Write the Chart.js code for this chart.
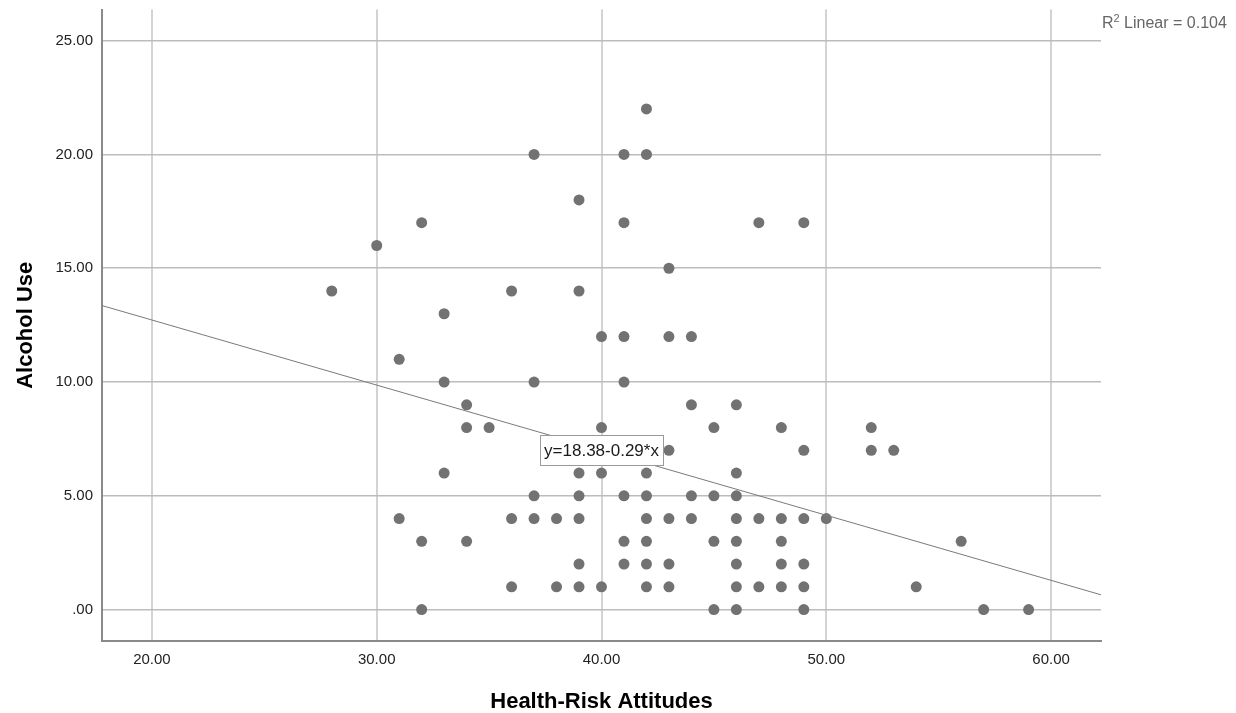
<!DOCTYPE html>
<html>
<head>
<meta charset="utf-8">
<script src="https://cdn.jsdelivr.net/npm/chart.js@4.4.1/dist/chart.umd.min.js"></script>
<style>
  html, body { margin: 0; padding: 0; background: #ffffff; }
  #wrap { width: 1236px; height: 713px; position: relative; }
</style>
</head>
<body>
<div id="wrap"><canvas id="c" width="1236" height="713"></canvas></div>
<script>
// ---- data ----
const healthRisk = [
  42,
  37, 41, 42,
  39,
  32, 41, 47, 49,
  30,
  43,
  28, 36, 39,
  33,
  40, 41, 43, 44,
  31,
  33, 37, 41,
  34, 44, 46,
  34, 35, 40, 45, 48, 52,
  43, 49, 52, 53,
  33, 39, 40, 42, 46,
  37, 39, 41, 42, 44, 45, 46,
  31, 36, 37, 38, 39, 42, 43, 44, 46, 47, 48, 49, 50,
  32, 34, 41, 42, 45, 46, 48, 56,
  39, 41, 42, 43, 46, 48, 49,
  36, 38, 39, 40, 42, 43, 46, 47, 48, 49, 54,
  32, 45, 46, 49, 57, 59
];
const alcoholUse = [
  22,
  20, 20, 20,
  18,
  17, 17, 17, 17,
  16,
  15,
  14, 14, 14,
  13,
  12, 12, 12, 12,
  11,
  10, 10, 10,
  9, 9, 9,
  8, 8, 8, 8, 8, 8,
  7, 7, 7, 7,
  6, 6, 6, 6, 6,
  5, 5, 5, 5, 5, 5, 5,
  4, 4, 4, 4, 4, 4, 4, 4, 4, 4, 4, 4, 4,
  3, 3, 3, 3, 3, 3, 3, 3,
  2, 2, 2, 2, 2, 2, 2,
  1, 1, 1, 1, 1, 1, 1, 1, 1, 1, 1,
  0, 0, 0, 0, 0, 0
];
// fit line end points (as drawn across the plot)
const fitLineX = [17.78, 62.22];
const fitLineY = [13.36, 0.65];
const fitLabel = 'y=18.38-0.29*x';
const fitLabelAtX = 40;
const r2Value = '0.104';
const xTicks = [20, 30, 40, 50, 60];
const yTicks = [0, 5, 10, 15, 20, 25];
const xTitle = 'Health-Risk Attitudes';
const yTitle = 'Alcohol Use';
const xRange = [17.78, 62.22];
const yRange = [-1.38, 26.37];

const points = healthRisk.map((x, i) => ({ x: x, y: alcoholUse[i] }));
const linePts = fitLineX.map((x, i) => ({ x: x, y: fitLineY[i] }));

function fmt(v) {
  const s = Number(v).toFixed(2);
  return s.startsWith('0.') ? s.slice(1) : s;
}

const FONT = "'Liberation Sans', Arial, sans-serif";

const annot = {
  id: 'annot',
  afterDatasetsDraw(chart) {
    const ctx = chart.ctx;
    const xs = chart.scales.x, ys = chart.scales.y;
    // regression equation label centered on the line
    const t = (fitLabelAtX - fitLineX[0]) / (fitLineX[1] - fitLineX[0]);
    const ly = fitLineY[0] + t * (fitLineY[1] - fitLineY[0]);
    const cx = xs.getPixelForValue(fitLabelAtX);
    const cy = ys.getPixelForValue(ly);
    ctx.save();
    ctx.font = '17px ' + FONT;
    const w = ctx.measureText(fitLabel).width + 8;
    const h = 30;
    const bx = Math.round(cx - w / 2) + 0.5, by = Math.round(cy - h / 2) + 0.5;
    ctx.fillStyle = '#ffffff';
    ctx.fillRect(bx, by, Math.round(w), h);
    ctx.strokeStyle = '#9a9a9a';
    ctx.lineWidth = 1;
    ctx.strokeRect(bx, by, Math.round(w), h);
    ctx.fillStyle = '#1a1a1a';
    ctx.textAlign = 'center';
    ctx.textBaseline = 'middle';
    ctx.fillText(fitLabel, cx, cy + 1.5);
    ctx.restore();

    // R² Linear label at top right
    const ca = chart.chartArea;
    ctx.save();
    ctx.fillStyle = '#666666';
    ctx.textBaseline = 'alphabetic';
    ctx.textAlign = 'left';
    let x = ca.right + 1;
    const base = 28;
    ctx.font = '16px ' + FONT;
    ctx.fillText('R', x, base);
    x += ctx.measureText('R').width;
    ctx.font = '11px ' + FONT;
    ctx.fillText('2', x, base - 6);
    x += ctx.measureText('2').width;
    ctx.font = '16px ' + FONT;
    ctx.fillText(' Linear = ' + r2Value, x, base);
    ctx.restore();
  }
};

new Chart(document.getElementById('c'), {
  type: 'scatter',
  data: {
    datasets: [
      {
        type: 'line',
        label: 'fit',
        data: linePts,
        borderColor: '#7a7a7a',
        borderWidth: 1,
        pointRadius: 0,
        fill: false,
        tension: 0
      },
      {
        label: 'points',
        data: points,
        backgroundColor: '#727272',
        borderColor: '#727272',
        borderWidth: 0,
        pointRadius: 5.5,
        pointHoverRadius: 5.5
      }
    ]
  },
  options: {
    responsive: false,
    animation: false,
    events: [],
    layout: { padding: { top: 9.5, right: 135, left: 0, bottom: 0 } },
    plugins: {
      legend: { display: false },
      tooltip: { enabled: false },
      title: { display: false }
    },
    scales: {
      x: {
        type: 'linear',
        position: 'bottom',
        min: xRange[0],
        max: xRange[1],
        afterBuildTicks: (s) => { s.ticks = xTicks.map(v => ({ value: v })); },
        afterFit: (s) => { s.height = 72; s.paddingLeft = 0; s.paddingRight = 0; },
        grid: { color: '#d3d3d3', lineWidth: 2, drawTicks: false },
        border: { display: true, color: '#8a8a8a', width: 2 },
        ticks: {
          callback: (v) => fmt(v),
          color: '#222222',
          font: { family: FONT, size: 15 },
          padding: 10,
          maxRotation: 0
        },
        title: {
          display: true,
          text: xTitle,
          color: '#000000',
          font: { family: FONT, size: 22, weight: 'bold', lineHeight: 1 },
          padding: { top: 0, bottom: 0 }
        }
      },
      y: {
        type: 'linear',
        position: 'left',
        min: yRange[0],
        max: yRange[1],
        afterBuildTicks: (s) => { s.ticks = yTicks.map(v => ({ value: v })); },
        afterFit: (s) => { s.width = 102; s.paddingTop = 0; s.paddingBottom = 0; },
        grid: { color: '#bcbcbc', lineWidth: 1.5, drawTicks: false },
        border: { display: true, color: '#8a8a8a', width: 2 },
        ticks: {
          callback: (v) => fmt(v),
          color: '#222222',
          font: { family: FONT, size: 15 },
          padding: 9
        },
        title: {
          display: true,
          text: yTitle,
          color: '#000000',
          font: { family: FONT, size: 22, weight: 'bold', lineHeight: 1 },
          padding: { top: 15, bottom: 0 }
        }
      }
    }
  },
  plugins: [annot]
});
</script>
</body>
</html>
